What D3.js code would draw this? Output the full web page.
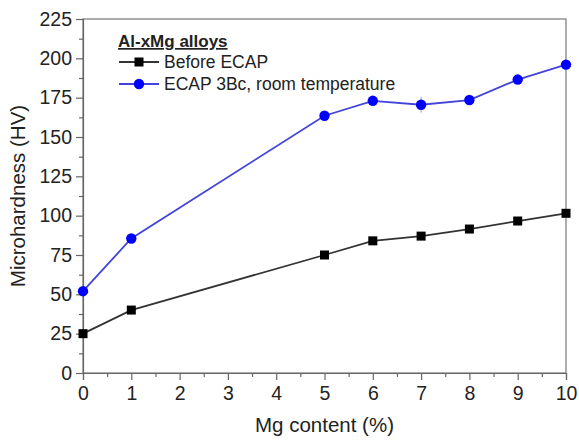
<!DOCTYPE html>
<html>
<head>
<meta charset="utf-8">
<script src="https://cdn.jsdelivr.net/npm/d3@7"></script>
<style>
  body { margin: 0; background: #fff; }
  svg text { font-family: "Liberation Sans", Arial, sans-serif; fill: #222; }
</style>
</head>
<body>
<svg id="chart" width="579" height="441"></svg>
<script>
// Mg content (%)
const mgContent = [0, 1, 5, 6, 7, 8, 9, 10];
// Microhardness (HV)
const beforeEcap = [25, 40, 75, 84, 87, 91.5, 96.6, 101.5];
const ecap3Bc = [52, 85.5, 163.5, 173, 170.5, 173.5, 186.5, 196];
const ecapErr = [0, 0, 0, 0, 5, 0, 0, 0];
const xTicks = d3.range(0, 11, 1);
const yTicks = d3.range(0, 226, 25);

const svg = d3.select('#chart');
const m = { left: 83, right: 13, top: 19, bottom: 68 };
const w = 579 - m.left - m.right;
const h = 441 - m.top - m.bottom;

const x = d3.scaleLinear().domain([0, 10]).range([0, w]);
const y = d3.scaleLinear().domain([0, 225]).range([h, 0]);

const g = svg.append('g').attr('transform', `translate(${m.left},${m.top})`);

// frame
g.append('rect').attr('width', w).attr('height', h)
    .attr('fill', 'none').attr('stroke', '#777').attr('stroke-width', 1.2);

// minor ticks
g.append('g').attr('transform', `translate(0,${h})`)
    .call(d3.axisBottom(x).tickValues(d3.range(0.5, 10, 1)).tickSize(4).tickFormat(''))
    .call(a => a.select('.domain').remove());
g.append('g')
    .call(d3.axisLeft(y).tickValues(d3.range(12.5, 225, 25)).tickSize(4).tickFormat(''))
    .call(a => a.select('.domain').remove());

// major axes
const xAxis = g.append('g').attr('transform', `translate(0,${h})`)
    .call(d3.axisBottom(x).tickValues(xTicks).tickSize(7).tickPadding(6));
const yAxis = g.append('g')
    .call(d3.axisLeft(y).tickValues(yTicks).tickSize(7).tickPadding(4));

g.selectAll('.tick line').attr('stroke', '#666').attr('stroke-width', 1.2);
g.selectAll('.domain').attr('stroke', '#666').attr('stroke-width', 1.2);
g.selectAll('.tick text').style('font-size', '19.5px').attr('fill', '#222');

// axis titles
svg.append('text')
    .attr('x', m.left + w / 2).attr('y', 432)
    .attr('text-anchor', 'middle').style('font-size', '20.5px')
    .text('Mg content (%)');
svg.append('text')
    .attr('transform', `translate(25,${m.top + h / 2}) rotate(-90)`)
    .attr('text-anchor', 'middle').style('font-size', '20.5px')
    .text('Microhardness (HV)');

const line = d3.line().x((d, i) => x(mgContent[i])).y(d => y(d));

// before ECAP
g.append('path').datum(beforeEcap)
    .attr('fill', 'none').attr('stroke', '#333').attr('stroke-width', 1.8)
    .attr('d', line);
g.selectAll('.sq').data(beforeEcap).enter().append('rect')
    .attr('x', (d, i) => x(mgContent[i]) - 4.5).attr('y', d => y(d) - 4.5)
    .attr('width', 9).attr('height', 9).attr('fill', '#000');

// ECAP 3Bc
g.selectAll('.err').data(ecap3Bc).enter().append('line')
    .attr('x1', (d, i) => x(mgContent[i])).attr('x2', (d, i) => x(mgContent[i]))
    .attr('y1', (d, i) => y(d - ecapErr[i])).attr('y2', (d, i) => y(d + ecapErr[i]))
    .attr('stroke', '#99a').attr('stroke-width', 1);
g.append('path').datum(ecap3Bc)
    .attr('fill', 'none').attr('stroke', '#4444dd').attr('stroke-width', 1.8)
    .attr('d', line);
g.selectAll('.dot').data(ecap3Bc).enter().append('circle')
    .attr('cx', (d, i) => x(mgContent[i])).attr('cy', d => y(d))
    .attr('r', 5.2).attr('fill', '#0000ff');

// legend
const lg = svg.append('g');
lg.append('text').attr('x', 118).attr('y', 47)
    .style('font-size', '17px').style('font-weight', 'bold')
    .style('text-decoration', 'underline')
    .text('Al-xMg alloys');
const legendItems = [
    { label: 'Before ECAP', color: '#333', mark: 'sq' },
    { label: 'ECAP 3Bc, room temperature', color: '#4444dd', mark: 'dot' }
];
legendItems.forEach((it, i) => {
    const cy = 62 + i * 22;
    lg.append('line').attr('x1', 119).attr('x2', 159).attr('y1', cy).attr('y2', cy)
        .attr('stroke', it.color).attr('stroke-width', 1.8);
    if (it.mark === 'sq') {
        lg.append('rect').attr('x', 134.5).attr('y', cy - 4.5).attr('width', 9).attr('height', 9).attr('fill', '#000');
    } else {
        lg.append('circle').attr('cx', 139).attr('cy', cy).attr('r', 5.2).attr('fill', '#0000ff');
    }
    lg.append('text').attr('x', 164).attr('y', cy + 6)
        .style('font-size', '17.5px').text(it.label);
});
</script>
</body>
</html>
